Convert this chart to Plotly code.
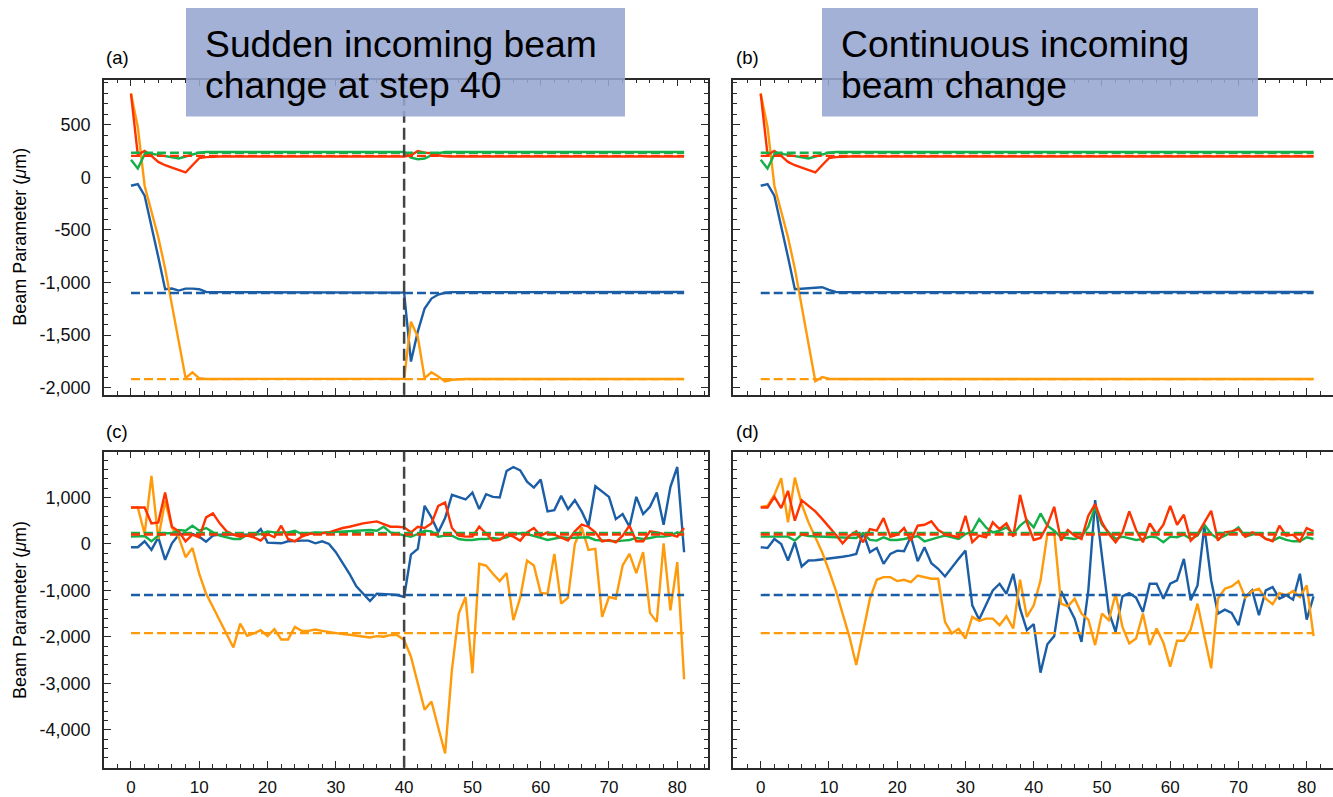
import plotly.graph_objects as go

W, H = 1333, 797

STEPS = list(range(82))
CHANGE_STEP = 40

SERIES_NAMES = ["blue", "orange", "green", "red"]
COLORS = {"blue": "#1B5EA6", "orange": "#FF9A0A", "green": "#14B04A", "red": "#FF3300"}
TARGETS = {"blue": -1100, "orange": -1920, "green": 235, "red": 205}

# ---------------- panel (a) ----------------
blue_a = [-79, -63, -174, -458, -758, -1064, -1058, -1077, -1058, -1058,
          -1064, -1090, -1092, -1092, -1092, -1092, -1092, -1092, -1092, -1092,
          -1092, -1092, -1092, -1092, -1092, -1092, -1092, -1092, -1092, -1092,
          -1092, -1092, -1092, -1092, -1092, -1092, -1092, -1092, -1092, -1092,
          -1096, -1752, -1468, -1247, -1153, -1115, -1098, -1092, -1092, -1092,
          -1092, -1092, -1092, -1092, -1092, -1092, -1092, -1092, -1092, -1092,
          -1092, -1092, -1092, -1092, -1092, -1092, -1092, -1092, -1092, -1092,
          -1092, -1092, -1092, -1092, -1092, -1092, -1092, -1092, -1092, -1092,
          -1090, -1090]
orange_a = [798, 480, -79, -332, -569, -868, -1216, -1595, -1910, -1856,
            -1912, -1918, -1918, -1918, -1918, -1918, -1918, -1918, -1918, -1918,
            -1918, -1918, -1918, -1918, -1918, -1918, -1918, -1918, -1918, -1918,
            -1918, -1918, -1918, -1918, -1918, -1918, -1918, -1918, -1918, -1918,
            -1917, -1373, -1516, -1910, -1854, -1895, -1942, -1926, -1920, -1918,
            -1918, -1918, -1918, -1918, -1918, -1918, -1918, -1918, -1918, -1918,
            -1918, -1918, -1918, -1918, -1918, -1918, -1918, -1918, -1918, -1918,
            -1918, -1918, -1918, -1918, -1918, -1918, -1918, -1918, -1918, -1918,
            -1918, -1918]
green_a = [167, 85, 221, 225, 215, 205, 195, 180, 199, 221,
           236, 242, 242, 242, 242, 242, 242, 242, 242, 242,
           242, 242, 242, 242, 242, 242, 242, 242, 242, 242,
           242, 242, 242, 242, 242, 242, 242, 242, 242, 242,
           242, 189, 173, 180, 211, 230, 242, 242, 242, 242,
           242, 242, 242, 242, 242, 242, 242, 242, 242, 242,
           242, 242, 242, 242, 242, 242, 242, 242, 242, 242,
           242, 242, 242, 242, 242, 242, 242, 242, 242, 242,
           242, 242]
red_a = [798, 215, 252, 205, 148, 116, 94, 72, 47, 116,
         183, 193, 199, 199, 199, 199, 199, 199, 199, 199,
         199, 199, 199, 199, 199, 199, 199, 199, 199, 199,
         199, 199, 199, 199, 199, 199, 199, 199, 199, 199,
         199, 211, 252, 236, 230, 211, 200, 199, 199, 199,
         199, 199, 199, 199, 199, 199, 199, 199, 199, 199,
         199, 199, 199, 199, 199, 199, 199, 199, 199, 199,
         199, 199, 199, 199, 199, 199, 199, 199, 199, 199,
         199, 199]

# ---------------- panel (b) ----------------
blue_b = [-79, -63, -174, -458, -758, -1064, -1058, -1052, -1045, -1045,
          -1070, -1090, -1092, -1092, -1092, -1092, -1092, -1092, -1092, -1092,
          -1092, -1092, -1092, -1092, -1092, -1092, -1092, -1092, -1092, -1092,
          -1092, -1092, -1092, -1092, -1092, -1092, -1092, -1092, -1092, -1092,
          -1092, -1092, -1092, -1092, -1092, -1092, -1092, -1092, -1092, -1092,
          -1092, -1092, -1092, -1092, -1092, -1092, -1092, -1092, -1092, -1092,
          -1092, -1092, -1092, -1092, -1092, -1092, -1092, -1092, -1092, -1092,
          -1092, -1092, -1092, -1092, -1092, -1092, -1092, -1092, -1092, -1092,
          -1090, -1090]
orange_b = [798, 480, -79, -332, -569, -868, -1216, -1595, -1940, -1900,
            -1915, -1918, -1918, -1918, -1918, -1918, -1918, -1918, -1918, -1918,
            -1918, -1918, -1918, -1918, -1918, -1918, -1918, -1918, -1918, -1918,
            -1918, -1918, -1918, -1918, -1918, -1918, -1918, -1918, -1918, -1918,
            -1918, -1918, -1918, -1918, -1918, -1918, -1918, -1918, -1918, -1918,
            -1918, -1918, -1918, -1918, -1918, -1918, -1918, -1918, -1918, -1918,
            -1918, -1918, -1918, -1918, -1918, -1918, -1918, -1918, -1918, -1918,
            -1918, -1918, -1918, -1918, -1918, -1918, -1918, -1918, -1918, -1918,
            -1918, -1918]
green_b = [167, 85, 221, 225, 215, 205, 195, 180, 199, 221,
           236, 242, 242, 242, 242, 242, 242, 242, 242, 242,
           242, 242, 242, 242, 242, 242, 242, 242, 242, 242,
           242, 242, 242, 242, 242, 242, 242, 242, 242, 242,
           242, 242, 242, 242, 242, 242, 242, 242, 242, 242,
           242, 242, 242, 242, 242, 242, 242, 242, 242, 242,
           242, 242, 242, 242, 242, 242, 242, 242, 242, 242,
           242, 242, 242, 242, 242, 242, 242, 242, 242, 242,
           242, 242]
red_b = [798, 215, 252, 205, 148, 116, 94, 72, 47, 116,
         183, 193, 199, 199, 199, 199, 199, 199, 199, 199,
         199, 199, 199, 199, 199, 199, 199, 199, 199, 199,
         199, 199, 199, 199, 199, 199, 199, 199, 199, 199,
         199, 199, 199, 199, 199, 199, 199, 199, 199, 199,
         199, 199, 199, 199, 199, 199, 199, 199, 199, 199,
         199, 199, 199, 199, 199, 199, 199, 199, 199, 199,
         199, 199, 199, 199, 199, 199, 199, 199, 199, 199,
         199, 199]

# ---------------- panel (c) ----------------
blue_c = [-71, -71, 57, -128, 143, -342, 14, 200, 229, 214,
          157, 50, 178, 200, 200, 200, 195, 200, 178, 321,
          29, 29, 14, 57, 72, 72, 72, 14, 57, 0,
          -178, -414, -642, -913, -1070, -1228, -1070, -1070, -1085, -1099,
          -1142, -228, -107, 821, 571, 250, 557, 1056, 999, 957,
          1106, 750, 1071, 1014, 999, 1570, 1656, 1585, 1342, 1213,
          1385, 700, 728, 1035, 750, 942, 700, 393, 1242, 1128,
          1014, 535, 642, 371, 1014, 642, 799, 1106, 414, 1228,
          1656, -178]
orange_c = [785, 785, 214, 1463, 107, 928, 350, 143, -285, -86,
            -642, -1070, -1356, -1641, -1927, -2227, -1713, -1977, -1927, -1856,
            -1984, -1834, -2055, -2055, -1784, -1870, -1870, -1841, -1870, -1898,
            -1927, -1941, -1955, -1977, -1998, -2013, -1984, -1998, -1963, -1963,
            -2070, -2426, -2997, -3568, -3390, -3925, -4510, -2712, -1498, -1142,
            -2783, -428, -464, -642, -799, -628, -1641, -1156, -357, -464,
            -1056, -1070, -214, -1285, -1156, 0, 357, -128, -107, -1570,
            -1142, -1178, -464, -214, -628, -178, -1484, -1677, 14, -1427,
            -392, -2912]
green_c = [157, 157, 171, 57, 178, 229, 229, 300, 286, 393,
           286, 343, 250, 178, 143, 107, 107, 200, 200, 214,
           271, 250, 250, 250, 286, 214, 229, 250, 243, 250,
           257, 264, 271, 280, 286, 300, 286, 371, 250, 214,
           178, 157, 214, 286, 271, 157, 178, 178, 107, 86,
           86, 107, 107, 129, 107, 143, 214, 229, 214, 178,
           129, 86, 107, 143, 129, 129, 143, 143, 86, 72,
           72, 57, 72, 86, 129, 107, 129, 157, 157, 178,
           250, 178]
red_c = [785, 785, 785, 443, 464, 1106, 371, 271, 57, 200,
         143, 571, 657, 443, 271, 200, 157, 178, 143, 72,
         214, 143, 393, 107, 57, 157, 214, 229, 229, 250,
         300, 343, 371, 414, 443, 464, 486, 428, 371, 371,
         357, 250, 371, 343, 443, 821, 892, 343, 178, 157,
         157, 371, 214, 72, 86, 200, 157, 72, 250, 343,
         178, 250, 200, 143, 72, 271, 414, 371, 250, 57,
         86, 36, 178, 393, 57, 57, 271, 250, 214, 200,
         157, 343]

# ---------------- panel (d) ----------------
blue_d = [-71, -86, 107, 0, -357, 36, -485, -357, -350, -335,
          -315, -295, -275, -250, -214, 250, -178, -86, -428, -214,
          -143, -157, 157, -371, -71, -414, -535, -699, -499, -321,
          -143, -1320, -1627, -1320, -999, -856, -1071, -642, -1392, -1856,
          -1727, -2769, -2160, -1984, -1013, -1320, -1606, -2106, -999, 942,
          -321, -1463, -1891, -1128, -1056, -1156, -1463, -856, -856, -1178,
          -856, -785, -321, -1213, -892, 371, -785, -1499, -1413, -1484,
          -1749, -1142, -999, -1534, -999, -927, -1178, -1106, -1199, -642,
          -1627, -1128]
orange_d = [799, 821, 1056, 1413, 464, 1427, 857, 464, 143, -178,
            -571, -999, -1499, -1998, -2605, -1927, -1178, -771, -714, -714,
            -799, -771, -821, -678, -714, -749, -749, -1677, -1927, -1827,
            -2034, -1570, -1656, -1606, -1606, -1749, -1556, -1820, -771, -1570,
            -1320, -785, 214, 250, -1285, -1342, -1178, -1499, -1627, -2177,
            -1499, -1641, -1071, -1784, -2141, -2034, -1499, -2177, -1820, -2127,
            -2641, -2084, -2084, -1841, -1285, -1998, -2676, -1178, -963, -913,
            -799, -1156, -1013, -963, -1178, -1299, -1056, -1106, -1013, -1142,
            -892, -1984]
green_d = [157, 157, 157, 143, 157, 72, 200, 171, 160, 155,
           150, 143, 140, 135, 129, 229, 86, 72, 143, 86,
           86, 107, 143, 171, 57, 107, 143, 178, 143, 107,
           214, 271, 535, 357, 250, 286, 357, 214, 393, 514,
           357, 657, 393, 286, 143, 129, 107, 157, 371, 799,
           414, 250, 107, 157, 129, 86, 107, 157, 143, 36,
           157, 143, 200, 107, 178, 414, 214, 107, 178, 250,
           357, 157, 200, 229, 107, 72, 143, 86, 57, 57,
           143, 107]
red_d = [785, 785, 1014, 771, 1142, 500, 942, 821, 700, 540,
         380, 200, 14, 178, 271, 36, 321, 286, 557, 157,
         200, 343, 72, 393, 414, 486, 300, 214, 178, 143,
         607, 36, 178, 143, 464, 321, 443, 157, 1056, 464,
         86, 129, 400, 799, 72, 300, 178, 107, 607, 857,
         464, 214, 36, 250, 700, 300, 36, 443, 214, 414,
         821, 414, 628, 72, 214, 464, 714, 72, 250, 271,
         321, 157, 250, 214, 107, 57, 393, 178, 200, 57,
         343, 271]

# ---------------- tick labels ----------------
X_TICKS = [0, 10, 20, 30, 40, 50, 60, 70, 80]
X_TICKTEXT = ["0", "10", "20", "30", "40", "50", "60", "70", "80"]
Y_TICKS_TOP = [-2000, -1500, -1000, -500, 0, 500]
Y_TICKTEXT_TOP = ["-2,000", "-1,500", "-1,000", "-500", "0", "500"]
Y_TICKS_BOT = [-4000, -3000, -2000, -1000, 0, 1000]
Y_TICKTEXT_BOT = ["-4,000", "-3,000", "-2,000", "-1,000", "0", "1,000"]

PANELS = [
    ("a", "x", "y", {"blue": blue_a, "orange": orange_a, "green": green_a, "red": red_a}, True),
    ("b", "x2", "y2", {"blue": blue_b, "orange": orange_b, "green": green_b, "red": red_b}, False),
    ("c", "x3", "y3", {"blue": blue_c, "orange": orange_c, "green": green_c, "red": red_c}, True),
    ("d", "x4", "y4", {"blue": blue_d, "orange": orange_d, "green": green_d, "red": red_d}, False),
]

FONT = "Liberation Sans, Arial, Helvetica, sans-serif"
AX_COLOR = "#2a2a2a"

fig = go.Figure()
for label, xa, ya, data, _ in PANELS:
    for name in SERIES_NAMES:
        fig.add_trace(go.Scatter(x=STEPS, y=data[name], mode="lines", xaxis=xa, yaxis=ya,
                                 line=dict(color=COLORS[name], width=2.4), showlegend=False,
                                 hoverinfo="skip"))
    for name in SERIES_NAMES:
        t = TARGETS[name]
        fig.add_trace(go.Scatter(x=[STEPS[0], STEPS[-1]], y=[t, t], mode="lines", xaxis=xa, yaxis=ya,
                                 line=dict(color=COLORS[name], width=2.4, dash="9px,4px"),
                                 showlegend=False, hoverinfo="skip"))


def px_x(p):
    return p / W


def px_y(p):
    return 1 - p / H


def xaxis_style(dom, rng, labels):
    return dict(domain=dom, range=rng, showline=True, linecolor=AX_COLOR, linewidth=1.5,
                mirror="allticks", ticks="inside", ticklen=7, tickwidth=1.3, tickcolor=AX_COLOR,
                tickmode="array", tickvals=X_TICKS, ticktext=X_TICKTEXT,
                showticklabels=labels, showgrid=False, zeroline=False,
                tickfont=dict(family=FONT, size=17, color="#111"), ticklabelstandoff=3,
                minor=dict(tickmode="linear", tick0=0, dtick=2, ticks="inside", ticklen=4,
                           tickwidth=1, tickcolor=AX_COLOR, showgrid=False))


def yaxis_style(dom, rng, tv, tt, minor_dt, labels, mirror):
    return dict(domain=dom, range=rng, showline=True, linecolor=AX_COLOR, linewidth=1.5,
                mirror=mirror, ticks="inside", ticklen=7, tickwidth=1.3, tickcolor=AX_COLOR,
                tickmode="array", tickvals=tv, ticktext=tt, showticklabels=labels,
                showgrid=False, zeroline=False,
                tickfont=dict(family=FONT, size=18, color="#111"), ticklabelstandoff=8,
                minor=dict(tickmode="linear", tick0=0, dtick=minor_dt, ticks="inside", ticklen=4,
                           tickwidth=1, tickcolor=AX_COLOR, showgrid=False))


XL = [px_x(104), px_x(708)]
XR = [px_x(733), 1.0]
RNG_L = [-3.95, 84.5]
RNG_R = [-4.06, 83.85]
YT = [px_y(396.7), px_y(80)]
YB = [px_y(771.7), px_y(454)]
RNG_T = [-2068, 931]
RNG_B = [-4818, 1985]

fig.update_layout(
    width=W, height=H, margin=dict(l=0, r=0, t=0, b=0),
    paper_bgcolor="white", plot_bgcolor="white", showlegend=False,
    xaxis=xaxis_style(XL, RNG_L, False) | dict(anchor="y"),
    xaxis2=xaxis_style(XR, RNG_R, False) | dict(anchor="y2"),
    xaxis3=xaxis_style(XL, RNG_L, True) | dict(anchor="y3"),
    xaxis4=xaxis_style(XR, RNG_R, True) | dict(anchor="y4"),
    yaxis=yaxis_style(YT, RNG_T, Y_TICKS_TOP, Y_TICKTEXT_TOP, 100, True, "allticks") | dict(anchor="x"),
    yaxis2=yaxis_style(YT, RNG_T, Y_TICKS_TOP, Y_TICKTEXT_TOP, 100, False, False) | dict(anchor="x2"),
    yaxis3=yaxis_style(YB, RNG_B, Y_TICKS_BOT, Y_TICKTEXT_BOT, 200, True, "allticks") | dict(anchor="x3"),
    yaxis4=yaxis_style(YB, RNG_B, Y_TICKS_BOT, Y_TICKTEXT_BOT, 200, False, False) | dict(anchor="x4"),
)

shapes = []
for label, xa, ya, data, has_change in PANELS:
    if has_change:
        shapes.append(dict(type="line", xref=xa, yref=ya + " domain", x0=CHANGE_STEP, x1=CHANGE_STEP,
                           y0=0, y1=1, line=dict(color="#444", width=2.5, dash="12px,5px"), layer="above"))
# annotation boxes
BOX_FILL = "rgba(150,166,208,0.88)"
shapes.append(dict(type="rect", xref="paper", yref="paper", x0=px_x(186), x1=px_x(625),
                   y0=px_y(117), y1=px_y(8), fillcolor=BOX_FILL, line=dict(width=0), layer="above"))
shapes.append(dict(type="rect", xref="paper", yref="paper", x0=px_x(822), x1=px_x(1258),
                   y0=px_y(117), y1=px_y(8), fillcolor=BOX_FILL, line=dict(width=0), layer="above"))
fig.update_layout(shapes=shapes)

ann = []


def text(t, x, y, size, xanchor="left", angle=0):
    ann.append(dict(text=t, x=px_x(x), y=px_y(y), xref="paper", yref="paper", showarrow=False,
                    xanchor=xanchor, yanchor="middle", textangle=angle,
                    font=dict(family=FONT, size=size, color="#000")))


text("Sudden incoming beam", 203, 44, 37.3)
text("change at step 40", 203, 85, 37.3)
text("Continuous incoming", 839, 44, 37.3)
text("beam change", 839, 85, 37.3)
text("(a)", 104, 58, 18.5)
text("(b)", 734, 58, 18.5)
text("(c)", 104, 434, 18.5)
text("(d)", 734, 434, 18.5)
text("Beam Parameter (<i>μ</i>m)", 20, 238, 18, xanchor="center", angle=-90)
text("Beam Parameter (<i>μ</i>m)", 20, 613, 18, xanchor="center", angle=-90)
fig.update_layout(annotations=ann)

fig.write_html("out.html")
